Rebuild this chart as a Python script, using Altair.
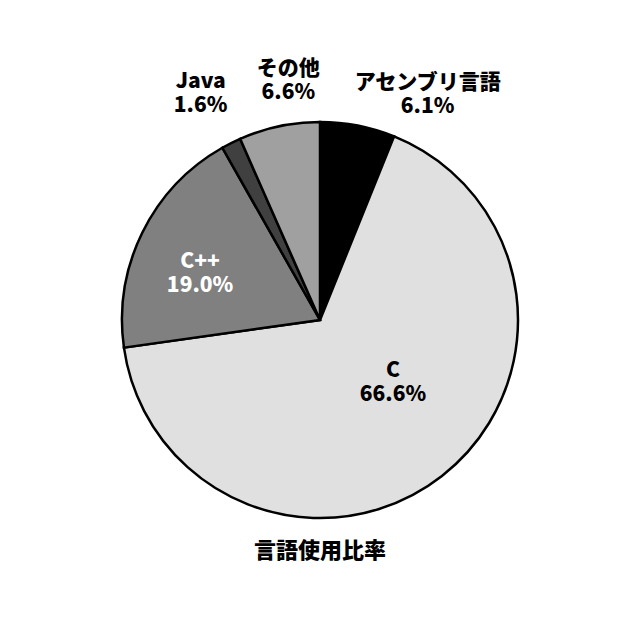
import altair as alt
import pandas as pd

languages = ["アセンブリ言語", "C", "C++", "Java", "その他"]
shares = [6.1, 66.6, 19.0, 1.6, 6.6]
colors = ["#000000", "#e0e0e0", "#808080", "#404040", "#a0a0a0"]
title_text = "言語使用比率"

df = pd.DataFrame({
    "lang": languages,
    "share": shares,
    "order": list(range(len(languages))),
    "label": [f"{l}\n{s:.1f}%" for l, s in zip(languages, shares)],
})
total = sum(shares)
FONT = "Noto Sans CJK JP"

pie = alt.Chart(df).mark_arc(outerRadius=198, stroke="black", strokeWidth=2.5).encode(
    theta=alt.Theta("share:Q", stack=True),
    order=alt.Order("order:Q"),
    color=alt.Color("lang:N", scale=alt.Scale(domain=languages, range=colors), legend=None),
)

label_style = {
    "アセンブリ言語": dict(radius=250, dx=60, dy=8, color="black"),
    "C": dict(radius=94, dx=15, dy=-23, color="black"),
    "C++": dict(radius=127, dx=-6, dy=-2, color="white"),
    "Java": dict(radius=257, dx=-4, dy=-8, color="black"),
    "その他": dict(radius=246, dx=19, dy=-10, color="black"),
}

text_layers = []
for name, st in label_style.items():
    t = alt.Chart(df).transform_window(
        cum="sum(share)", sort=[alt.SortField("order")], frame=[None, 0]
    ).transform_calculate(
        mid="datum.cum - datum.share / 2"
    ).transform_filter(
        alt.datum.lang == name
    ).mark_text(
        font=FONT, fontSize=21, fontWeight=900, lineBreak="\n", lineHeight=24,
        align="center", baseline="middle",
        radius=st["radius"], dx=st["dx"], dy=st["dy"], color=st["color"],
    ).encode(
        theta=alt.Theta("mid:Q", scale=alt.Scale(domain=[0, total]), stack=None),
        text="label:N",
    )
    text_layers.append(t)

title = alt.Chart(pd.DataFrame({"t": [title_text]})).mark_text(
    font=FONT, fontSize=22, fontWeight=900, align="center", baseline="middle", color="black"
).encode(
    x=alt.value(312), y=alt.value(543), text="t:N"
)

chart = alt.layer(pie, *text_layers, title).resolve_scale(theta="independent").properties(
    width=624, height=624, padding=0, autosize=alt.AutoSizeParams(type="none"),
).configure_view(stroke=None)

chart.save("out.html", embed_options={"renderer": "svg", "actions": False})
